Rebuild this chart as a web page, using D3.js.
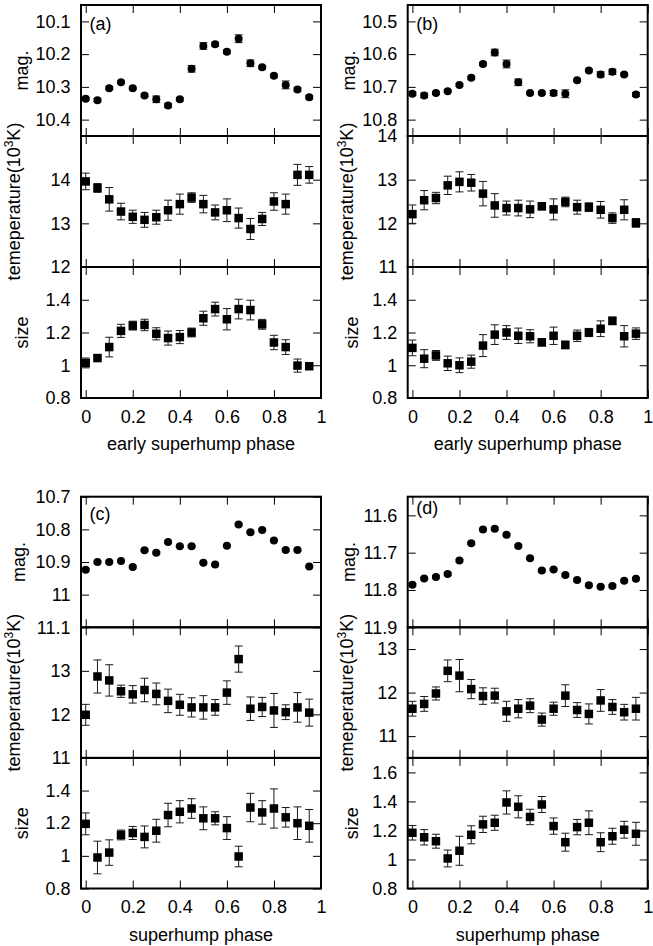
<!DOCTYPE html>
<html><head><meta charset="utf-8">
<script src="https://cdn.jsdelivr.net/npm/d3@7"></script>
<style>body{margin:0;background:#fff} svg text{font-family:"Liberation Sans",Arial,Helvetica,sans-serif}</style>
</head><body><svg id="c" width="653" height="946"></svg>
<script>
const phase = [0,0.05,0.1,0.15,0.2,0.25,0.3,0.35,0.4,0.45,0.5,0.55,0.6,0.65,0.7,0.75,0.8,0.85,0.9,0.95];
const xTicks = [0,0.2,0.4,0.6,0.8,1];

// (a) early superhump
const magA    = [10.336,10.341,10.304,10.286,10.304,10.326,10.338,10.357,10.338,10.245,10.175,10.170,10.193,10.153,10.228,10.240,10.266,10.294,10.308,10.332];
const magAErr = [0.004,0.005,0.004,0.004,0.004,0.004,0.010,0.006,0.005,0.010,0.010,0.006,0.005,0.012,0.010,0.005,0.005,0.012,0.005,0.005];
const tempA    = [13.96,13.81,13.55,13.27,13.15,13.08,13.14,13.30,13.44,13.59,13.44,13.25,13.30,13.12,12.87,13.10,13.50,13.44,14.11,14.11];
const tempAErr = [0.19,0.10,0.27,0.19,0.15,0.17,0.16,0.23,0.23,0.11,0.20,0.17,0.26,0.23,0.24,0.15,0.20,0.23,0.24,0.19];
const sizeA    = [1.014,1.044,1.111,1.210,1.242,1.246,1.192,1.166,1.172,1.200,1.287,1.343,1.281,1.343,1.337,1.250,1.139,1.111,0.998,0.994];
const sizeAErr = [0.030,0.010,0.060,0.040,0.027,0.035,0.037,0.043,0.040,0.027,0.043,0.042,0.065,0.060,0.060,0.030,0.044,0.045,0.040,0.020];

// (b) early superhump
const magB    = [10.721,10.726,10.719,10.713,10.694,10.672,10.630,10.595,10.630,10.686,10.719,10.719,10.719,10.721,10.680,10.650,10.662,10.654,10.662,10.723];
const magBErr = [0.005,0.007,0.004,0.004,0.004,0.004,0.005,0.010,0.012,0.010,0.004,0.004,0.008,0.012,0.004,0.004,0.008,0.008,0.004,0.006];
const tempB    = [12.21,12.53,12.58,12.87,12.95,12.93,12.68,12.41,12.35,12.35,12.32,12.39,12.32,12.49,12.37,12.37,12.31,12.12,12.31,12.01];
const tempBErr = [0.21,0.22,0.13,0.21,0.23,0.19,0.28,0.27,0.16,0.18,0.19,0.08,0.24,0.11,0.16,0.10,0.19,0.12,0.23,0.10];
const sizeB    = [1.106,1.040,1.060,1.012,1.000,1.022,1.120,1.187,1.200,1.180,1.177,1.140,1.180,1.124,1.180,1.200,1.223,1.271,1.177,1.193];
const sizeBErr = [0.048,0.055,0.030,0.044,0.045,0.040,0.067,0.060,0.042,0.047,0.040,0.022,0.053,0.023,0.035,0.025,0.048,0.023,0.065,0.035];

// (c) superhump
const magC    = [10.924,10.900,10.900,10.897,10.915,10.864,10.872,10.839,10.852,10.852,10.902,10.908,10.850,10.785,10.809,10.802,10.834,10.863,10.863,10.914];
const magCErr = [0.003,0.003,0.003,0.003,0.003,0.003,0.003,0.003,0.003,0.003,0.003,0.003,0.003,0.003,0.003,0.003,0.003,0.003,0.003,0.003];
const tempC    = [11.99,12.87,12.78,12.53,12.46,12.56,12.47,12.31,12.22,12.16,12.16,12.16,12.50,13.27,12.13,12.17,12.09,12.05,12.16,12.04];
const tempCErr = [0.24,0.38,0.36,0.14,0.20,0.27,0.25,0.27,0.24,0.22,0.27,0.18,0.27,0.30,0.27,0.22,0.39,0.17,0.34,0.31];
const sizeC    = [1.196,0.990,1.020,1.128,1.140,1.116,1.154,1.250,1.270,1.290,1.230,1.230,1.170,0.996,1.296,1.266,1.290,1.236,1.200,1.184];
const sizeCErr = [0.067,0.100,0.078,0.030,0.040,0.067,0.070,0.072,0.068,0.060,0.070,0.040,0.070,0.063,0.087,0.072,0.120,0.060,0.100,0.100];

// (d) superhump
const magD    = [11.786,11.769,11.765,11.757,11.721,11.675,11.638,11.636,11.652,11.682,11.715,11.748,11.745,11.760,11.773,11.787,11.791,11.789,11.775,11.770];
const magDErr = [0.003,0.003,0.003,0.003,0.003,0.003,0.003,0.003,0.003,0.003,0.003,0.003,0.003,0.003,0.003,0.003,0.003,0.003,0.003,0.003];
const tempD    = [11.63,11.74,11.98,12.50,12.39,12.08,11.92,11.93,11.57,11.63,11.70,11.38,11.63,11.93,11.60,11.51,11.82,11.67,11.55,11.63];
const tempDErr = [0.17,0.17,0.15,0.25,0.37,0.22,0.19,0.17,0.23,0.21,0.16,0.15,0.15,0.25,0.17,0.23,0.25,0.17,0.18,0.26];
const sizeD    = [1.184,1.153,1.126,1.007,1.060,1.170,1.242,1.253,1.393,1.363,1.293,1.379,1.230,1.119,1.223,1.253,1.119,1.160,1.205,1.177];
const sizeDErr = [0.050,0.053,0.048,0.058,0.100,0.062,0.056,0.052,0.080,0.076,0.053,0.055,0.056,0.062,0.053,0.082,0.065,0.055,0.058,0.079];

// tick labels
const magTicksA = [10.1,10.2,10.3,10.4];
const magTicksB = [10.5,10.6,10.7,10.8];
const magTicksC = [10.7,10.8,10.9,11,11.1];
const magTicksD = [11.6,11.7,11.8,11.9];
const tempTicksA = [12,13,14];
const tempTicksB = [11,12,13,14];
const tempTicksC = [11,12,13];
const tempTicksD = [11,12,13];
const sizeTicksABC = [0.8,1,1.2,1.4];
const sizeTicksD = [0.8,1,1.2,1.4,1.6];
const panelNames = ["(a)","(b)","(c)","(d)"];
const xLabels = ["early superhump phase","early superhump phase","superhump phase","superhump phase"];

const svg = d3.select("#c");
const FS = 18;

const panels = [
 {name:panelNames[0], left:81, top:5, h:131, xlabel:xLabels[0], lab:24.5, off:{mag:53,temp:61,size:52.7},
  rows:[{k:"mag",v:magA,e:magAErr,dom:[10.05,10.45],ticks:magTicksA},
        {k:"temp",v:tempA,e:tempAErr,dom:[12,15],ticks:tempTicksA},
        {k:"size",v:sizeA,e:sizeAErr,dom:[0.8,1.6],ticks:sizeTicksABC}]},
 {name:panelNames[1], left:407.7, top:5, h:131, xlabel:xLabels[1], lab:24.5, off:{mag:53,temp:55,size:49.4},
  rows:[{k:"mag",v:magB,e:magBErr,dom:[10.45,10.85],ticks:magTicksB},
        {k:"temp",v:tempB,e:tempBErr,dom:[11,14],ticks:tempTicksB},
        {k:"size",v:sizeB,e:sizeBErr,dom:[0.8,1.6],ticks:sizeTicksABC}]},
 {name:panelNames[2], left:81, top:496.7, h:130.6, xlabel:xLabels[2], lab:23.5, off:{mag:56.5,temp:61,size:52.7},
  rows:[{k:"mag",v:magC,e:magCErr,dom:[10.7,11.1],ticks:magTicksC},
        {k:"temp",v:tempC,e:tempCErr,dom:[11,14],ticks:tempTicksC},
        {k:"size",v:sizeC,e:sizeCErr,dom:[0.8,1.6],ticks:sizeTicksABC}]},
 {name:panelNames[3], left:407.7, top:496.7, h:130.6, xlabel:xLabels[3], lab:16.8, off:{mag:53,temp:55,size:49.4},
  rows:[{k:"mag",v:magD,e:magDErr,dom:[11.55,11.9],ticks:magTicksD},
        {k:"temp",v:tempD,e:tempDErr,dom:[10.5,13.5],ticks:tempTicksD},
        {k:"size",v:sizeD,e:sizeDErr,dom:[0.8,1.7],ticks:sizeTicksD}]}
];

const PW = 240;
const fmt = d => String(+d.toFixed(3));

function styleAxis(g){
  g.select(".domain").remove();
  g.attr("font-size",FS).attr("font-family",null).attr("color","#000");
  g.selectAll(".tick line").attr("stroke-width",1);
}

panels.forEach(p => {
  const x = d3.scaleLinear().domain([-0.02,1]).range([p.left, p.left+PW]);
  p.rows.forEach((r,i) => {
    const top = p.top + i*p.h, bot = top + p.h;
    const y = d3.scaleLinear().domain(r.dom).range(r.k==="mag" ? [top,bot] : [bot,top]);
    const g = svg.append("g");
    // ticks
    g.append("g").attr("transform",`translate(${p.left},0)`)
      .call(d3.axisLeft(y).tickValues(r.ticks).tickSize(-8).tickPadding(10.5).tickFormat(fmt)).call(styleAxis);
    g.append("g").attr("transform",`translate(${p.left+PW},0)`)
      .call(d3.axisRight(y).tickValues(r.ticks).tickSize(-8).tickFormat(()=>"")).call(styleAxis);
    g.append("g").attr("transform",`translate(0,${top})`)
      .call(d3.axisTop(x).tickValues(xTicks).tickSize(-8).tickFormat(()=>"")).call(styleAxis);
    g.append("g").attr("transform",`translate(0,${bot})`)
      .call(d3.axisBottom(x).tickValues(xTicks).tickSize(-8).tickPadding(12)
        .tickFormat(i===2 ? fmt : ()=>"")).call(styleAxis);
    // error bars
    const data = phase.map((ph,j)=>({x:ph, v:r.v[j], e:r.e[j]}));
    const eb = g.append("g").attr("stroke","#1a1a1a").attr("stroke-width",1).attr("fill","none");
    data.forEach(d => {
      const cx = x(d.x), y1 = y(d.v - d.e), y2 = y(d.v + d.e);
      eb.append("line").attr("x1",cx).attr("x2",cx).attr("y1",y1).attr("y2",y2);
      eb.append("line").attr("x1",cx-4).attr("x2",cx+4).attr("y1",y1).attr("y2",y1);
      eb.append("line").attr("x1",cx-4).attr("x2",cx+4).attr("y1",y2).attr("y2",y2);
    });
    // markers
    if (r.k === "mag") {
      g.append("g").selectAll("circle").data(data).join("circle")
        .attr("cx",d=>x(d.x)).attr("cy",d=>y(d.v)).attr("r",4).attr("fill","#000");
    } else {
      const s = 8.5;
      g.append("g").selectAll("rect").data(data).join("rect")
        .attr("x",d=>x(d.x)-s/2).attr("y",d=>y(d.v)-s/2).attr("width",s).attr("height",s).attr("fill","#000");
    }
    // frame
    g.append("rect").attr("x",p.left).attr("y",top).attr("width",PW).attr("height",p.h)
      .attr("fill","none").attr("stroke","#000").attr("stroke-width",2);
    // y label
    const cy = (top+bot)/2;
    const lx = p.left - p.off[r.k];
    const t = svg.append("text").attr("transform",`translate(${lx},${cy}) rotate(-90)`)
      .attr("text-anchor","middle").attr("font-size",FS).attr("fill","#000");
    if (r.k === "mag") t.text("mag.");
    else if (r.k === "size") t.text("size");
    else {
      t.append("tspan").text("temeperature(10");
      t.append("tspan").attr("font-size",12).attr("dy",-7).text("3");
      t.append("tspan").attr("dy",7).text("K)");
    }
  });
  // panel label
  svg.append("text").attr("x",p.left+8.5).attr("y",p.top+p.lab).attr("font-size",FS).text(p.name);
  // x label
  svg.append("text").attr("x",p.left+PW/2).attr("y",p.top+3*p.h+52).attr("text-anchor","middle")
    .attr("font-size",FS).text(p.xlabel);
});
</script></body></html>
